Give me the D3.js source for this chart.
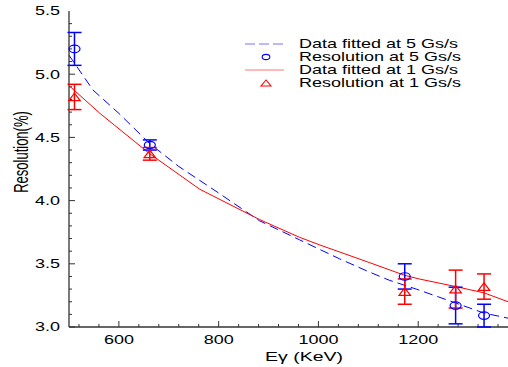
<!DOCTYPE html>
<html>
<head>
<meta charset="utf-8">
<script src="https://cdn.jsdelivr.net/npm/d3@7"></script>
<style>
  body { margin: 0; background: #fff; }
  text { font-family: "Liberation Sans", Arial, sans-serif; fill: #000; }
</style>
</head>
<body>
<svg id="chart"></svg>
<script>
// measured points (keV, resolution %)
var energies = [511, 662, 1173, 1275, 1332];
var res5 = [5.20, 4.44, 3.40, 3.17, 3.09];
var err5 = [0.13, 0.04, 0.10, 0.145, 0.09];
var res1 = [4.82, 4.37, 3.28, 3.30, 3.32];
var err1 = [0.10, 0.05, 0.10, 0.15, 0.10];

// fitted curves
var fit5E = [500, 548, 600, 662, 720, 800, 882, 962, 1042, 1102, 1142, 1196, 1275, 1332, 1380];
var fit5R = [5.15, 4.875, 4.69, 4.45, 4.27, 4.06, 3.84, 3.69, 3.54, 3.435, 3.37, 3.30, 3.19, 3.11, 3.07];
var fit1E = [500, 562, 662, 762, 882, 962, 1002, 1102, 1172, 1202, 1275, 1332, 1380];
var fit1R = [4.91, 4.69, 4.37, 4.09, 3.85, 3.71, 3.65, 3.51, 3.41, 3.38, 3.32, 3.27, 3.20];

var xTicks = [600, 800, 1000, 1200];
var yTicks = [3.0, 3.5, 4.0, 4.5, 5.0, 5.5];
var legendLabels = ["Data fitted at 5 Gs/s", "Resolution at 5 Gs/s", "Data fitted at 1 Gs/s", "Resolution at 1 Gs/s"];

var width = 508, height = 367;
var blue = "#0000ff", red = "#ff0000", axisCol = "#333";
var sx = 1.5; // the figure is stretched sideways

var svg = d3.select("#chart").attr("width", width).attr("height", height);

var x = d3.scaleLinear().domain([500, 1380]).range([69, 508]);
var y = d3.scaleLinear().domain([3.0, 5.5]).range([327, 11]);

function stretched(sel, px, py, size, anchor) {
  return sel.attr("transform", "translate(" + px + "," + py + ") scale(" + sx + ",1)")
    .attr("font-size", size).attr("text-anchor", anchor);
}

// ticks (inward)
var ax = svg.append("g").attr("stroke", axisCol);
d3.range(520, 1380, 40).forEach(function(v) {
  var major = v % 200 === 0;
  ax.append("line").attr("x1", x(v)).attr("x2", x(v))
    .attr("y1", 327).attr("y2", 327 - (major ? 6 : 3)).attr("stroke-width", 1);
});
d3.range(30, 55).forEach(function(i) {
  var v = i / 10, major = i % 5 === 0;
  ax.append("line").attr("x1", 69).attr("x2", 69 + (major ? 6 : 3))
    .attr("y1", y(v)).attr("y2", y(v)).attr("stroke-width", 1);
});
ax.append("line").attr("x1", 69).attr("x2", 69).attr("y1", 11).attr("y2", 327).attr("stroke-width", 1.3);
ax.append("line").attr("x1", 69).attr("x2", 508).attr("y1", 327).attr("y2", 327).attr("stroke-width", 1.3);

// tick labels
xTicks.forEach(function(v) {
  stretched(svg.append("text"), x(v), 344, 12, "middle").text(v);
});
yTicks.forEach(function(v) {
  stretched(svg.append("text"), 60, y(v) + 4.3, 12, "end").text(v.toFixed(1));
});

// axis titles
stretched(svg.append("text"), 304, 361, 13, "middle").text("Eγ (KeV)");
svg.append("text")
  .attr("transform", "translate(28,152) scale(" + sx + ",1) rotate(-90)")
  .attr("font-size", 13).attr("text-anchor", "middle")
  .text("Resolution(%)");

// fitted lines
var line = d3.line()
  .x(function(d) { return x(d[0]); })
  .y(function(d) { return y(d[1]); });

svg.append("path")
  .datum(d3.zip(fit5E, fit5R))
  .attr("d", line).attr("fill", "none")
  .attr("stroke", blue).attr("stroke-width", 1)
  .attr("stroke-dasharray", "9,5");

svg.append("path")
  .datum(d3.zip(fit1E, fit1R))
  .attr("d", line).attr("fill", "none")
  .attr("stroke", red).attr("stroke-width", 1);

// error bars + markers
function errorBars(vals, errs, color) {
  var g = svg.append("g").attr("stroke", color).attr("stroke-width", 1.5).attr("fill", "none");
  energies.forEach(function(e, i) {
    var lo = Math.max(3.0, vals[i] - errs[i]), hi = vals[i] + errs[i];
    var cx = x(e);
    g.append("line").attr("x1", cx).attr("x2", cx).attr("y1", y(lo)).attr("y2", y(hi));
    g.append("line").attr("x1", cx - 7).attr("x2", cx + 7).attr("y1", y(hi)).attr("y2", y(hi));
    if (vals[i] - errs[i] >= 3.0)
      g.append("line").attr("x1", cx - 7).attr("x2", cx + 7).attr("y1", y(lo)).attr("y2", y(lo));
  });
}
errorBars(res5, err5, blue);
errorBars(res1, err1, red);

function triangle(cx, cy, w, h) {
  return "M" + (cx - w / 2) + "," + (cy + h / 2) + "L" + (cx + w / 2) + "," + (cy + h / 2) +
    "L" + cx + "," + (cy - h / 2) + "Z";
}

svg.append("g").selectAll("ellipse")
  .data(d3.zip(energies, res5))
  .enter().append("ellipse")
    .attr("cx", function(d) { return x(d[0]); })
    .attr("cy", function(d) { return y(d[1]); })
    .attr("rx", 5.5).attr("ry", 3.7)
    .attr("fill", "none").attr("stroke", blue).attr("stroke-width", 1.2);

svg.append("g").selectAll("path")
  .data(d3.zip(energies, res1))
  .enter().append("path")
    .attr("d", function(d) { return triangle(x(d[0]), y(d[1]), 11.5, 7.5); })
    .attr("fill", "none").attr("stroke", red).attr("stroke-width", 1.2);

// legend
var legY = [44, 57, 70, 83];
var leg = svg.append("g");
leg.append("line").attr("x1", 245).attr("x2", 284).attr("y1", legY[0]).attr("y2", legY[0])
  .attr("stroke", blue).attr("stroke-opacity", 0.55).attr("stroke-width", 1.2).attr("stroke-dasharray", "10,4");
leg.append("ellipse").attr("cx", 266).attr("cy", legY[1]).attr("rx", 3.8).attr("ry", 2.6)
  .attr("fill", "none").attr("stroke", blue).attr("stroke-width", 1.1);
leg.append("line").attr("x1", 245).attr("x2", 284).attr("y1", legY[2]).attr("y2", legY[2])
  .attr("stroke", red).attr("stroke-opacity", 0.55).attr("stroke-width", 1.2);
leg.append("path").attr("d", triangle(266, legY[3], 10, 6))
  .attr("fill", "none").attr("stroke", red).attr("stroke-width", 1.1);

legendLabels.forEach(function(t, i) {
  stretched(leg.append("text"), 299, legY[i] + 4.3, 12, "start").text(t);
});
</script>
</body>
</html>
